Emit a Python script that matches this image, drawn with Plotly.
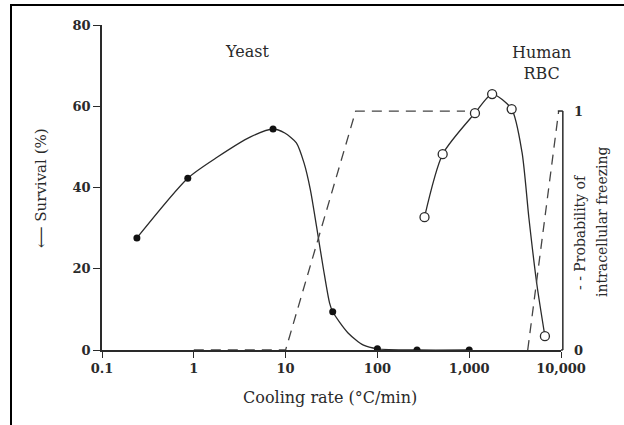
import plotly.graph_objects as go

# ---- data ----
yeast_rate = [0.24, 0.86, 7.3, 32.6, 100, 270, 1000]
yeast_surv = [27.6, 42.3, 54.4, 9.4, 0.3, 0.0, 0.0]

yeast_curve_rate = [0.24, 0.86, 1.81, 4.1, 7.3, 9.8, 13.1, 15.9, 18.6, 21.7, 25.8, 30.1, 32.6, 47.9, 70.6, 100, 270, 1000]
yeast_curve_surv = [27.6, 42.3, 47.5, 52.4, 54.4, 53.4, 51.0, 46.0, 39.5, 30.5, 20.0, 11.6, 9.4, 4.2, 1.2, 0.3, 0.0, 0.0]

rbc_rate = [326, 514, 1155, 1778, 2900, 6680]
rbc_surv = [32.7, 48.2, 58.3, 63.0, 59.3, 3.4]

rbc_curve_rate = [326, 514, 1155, 1778, 2900, 3760, 4470, 5470, 6680]
rbc_curve_surv = [32.7, 48.2, 58.3, 63.0, 59.3, 48.7, 32.5, 16.0, 3.4]

yeast_freeze_rate = [1, 10, 58, 900]
yeast_freeze_prob = [0, 0, 1, 1]

rbc_freeze_rate = [4340, 9440]
rbc_freeze_prob = [0, 1]

x_tickvals = [0.1, 1, 10, 100, 1000, 10000]
x_ticktext = ["0.1", "1", "10", "100", "1,000", "10,000"]
y_tickvals = [0, 20, 40, 60, 80]
y2_tickvals = [0, 1]
y2_ticktext = ["0", "1"]

# ---- styling ----
INK = "#2a2a2a"
SERIF = "DejaVu Serif"
W, H = 624, 425
L, R, T, B = 102, 63, 25, 75
PW, PH = W - L - R, H - T - B


def px_x(p):
    return (p - L) / PW


def px_y(p):
    return (H - B - p) / PH


fig = go.Figure()

# dashed probability lines (right axis)
dash_line = dict(color="#444", width=1.3, dash="10px,7px")
fig.add_trace(go.Scatter(x=yeast_freeze_rate, y=yeast_freeze_prob, yaxis="y2", mode="lines",
                         line=dash_line, hoverinfo="skip"))
fig.add_trace(go.Scatter(x=rbc_freeze_rate, y=rbc_freeze_prob, yaxis="y2", mode="lines",
                         line=dash_line, hoverinfo="skip"))

# survival curves
fig.add_trace(go.Scatter(x=yeast_curve_rate, y=yeast_curve_surv, mode="lines",
                         line=dict(color=INK, width=1.3, shape="spline", smoothing=0.7)))
fig.add_trace(go.Scatter(x=rbc_curve_rate, y=rbc_curve_surv, mode="lines",
                         line=dict(color=INK, width=1.3, shape="spline", smoothing=0.7)))

# markers
fig.add_trace(go.Scatter(x=yeast_rate, y=yeast_surv, mode="markers",
                         marker=dict(color="#111", size=7, line=dict(width=0))))
fig.add_trace(go.Scatter(x=rbc_rate, y=rbc_surv, mode="markers",
                         marker=dict(color="white", size=9, line=dict(color=INK, width=1.3))))

tickfont = dict(family=SERIF, size=13, color=INK, weight="bold")
y2_top = 1.36  # probability 1 sits at ~59 % survival


def label(text, x, y, size, angle=0):
    return dict(text=text, xref="paper", yref="paper", x=px_x(x), y=px_y(y),
                xanchor="center", yanchor="middle", showarrow=False, textangle=angle,
                font=dict(family=SERIF, size=size, color=INK))


fig.update_layout(
    width=W, height=H,
    margin=dict(l=L, r=R, t=T, b=B),
    paper_bgcolor="white", plot_bgcolor="white",
    showlegend=False,
    xaxis=dict(type="log", range=[-1, 4], tickvals=x_tickvals, ticktext=x_ticktext,
               showline=True, linecolor=INK, linewidth=1.5, ticks="outside", ticklen=6,
               tickcolor=INK, tickwidth=1.3, showgrid=False, zeroline=False, tickfont=tickfont),
    yaxis=dict(range=[0, 80], tickvals=y_tickvals, showline=True, linecolor=INK, linewidth=1.5,
               ticks="outside", ticklen=7, tickcolor=INK, tickwidth=1.3, showgrid=False,
               zeroline=False, tickfont=tickfont),
    yaxis2=dict(range=[0, y2_top], overlaying="y", side="right",
                tickvals=y2_tickvals, ticktext=y2_ticktext, showline=False, showgrid=False,
                zeroline=False, ticks="", tickfont=tickfont, ticklabelstandoff=12),
    shapes=[
        # right axis line (0..1) and its top tick
        dict(type="line", xref="paper", yref="y2", x0=1.004, x1=1.004, y0=0, y1=1,
             line=dict(color=INK, width=1.5)),
        dict(type="line", xref="paper", yref="y2", x0=1.004, x1=0.993, y0=1, y1=1,
             line=dict(color=INK, width=1.5)),
        dict(type="line", xref="paper", yref="paper", x0=1.0, x1=1.004, y0=0, y1=0,
             line=dict(color=INK, width=1.5)),
        # outer frame (top and left edges visible)
        dict(type="rect", xref="paper", yref="paper", x0=px_x(11), x1=px_x(700), y0=px_y(5), y1=px_y(500),
             line=dict(color="black", width=2), fillcolor="rgba(0,0,0,0)", layer="above"),
    ],
    annotations=[
        label("Yeast", 247, 52, 16),
        label("Human<br>RBC", 541, 63, 16),
        label("⟵ Survival (%)", 41, 188, 15, -90),
        label("- - Probability of", 580, 232, 14, -90),
        label("intracellular freezing", 602, 222, 14, -90),
        label("Cooling rate (°C/min)", 330, 397, 16),
    ],
)

fig.write_html("out.html", config={"displayModeBar": False},
               post_script="document.body.style.margin='0';")
